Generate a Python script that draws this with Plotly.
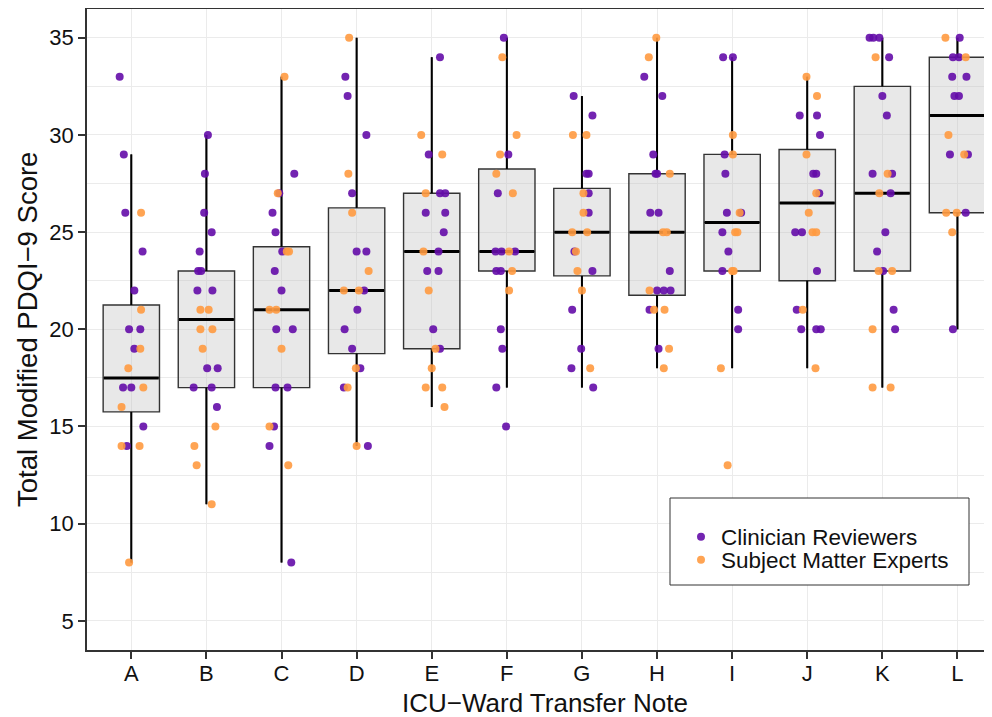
import plotly.graph_objects as go

notes = list("ABCDEFGHIJKL")

# box statistics (all raters combined)
q1 = [15.75, 17, 17, 18.75, 19, 23, 22.75, 21.75, 23, 22.5, 23, 26]
med = [17.5, 20.5, 21, 22, 24, 24, 25, 25, 25.5, 26.5, 27, 31]
q3 = [21.25, 23, 24.25, 26.25, 27, 28.25, 27.25, 28, 29, 29.25, 32.5, 34]
lo = [8, 11, 8, 14, 16, 17, 17, 18, 18, 18, 17, 20]
hi = [29, 30, 33, 35, 34, 35, 32, 35, 34, 33, 35, 35]

# Clinician Reviewers: number of scores per note, scores, horizontal jitter
clin_count = [12, 14, 14, 13, 12, 12, 12, 13, 11, 13, 14, 11]
clin_score = [
    33, 29, 26, 24, 22, 20, 20, 19, 17, 17, 15, 14,
    30, 28, 26, 25, 24, 23, 23, 22, 22, 18, 18, 17, 17, 16,
    28, 27, 26, 25, 24, 23, 22, 20, 20, 17, 17, 15, 14, 8,
    33, 32, 30, 27, 24, 24, 22, 21, 20, 19, 18, 17, 14,
    34, 29, 27, 27, 26, 26, 25, 24, 23, 23, 20, 19,
    35, 29, 27, 24, 24, 24, 23, 23, 20, 19, 17, 15,
    32, 31, 28, 28, 27, 26, 24, 23, 21, 19, 18, 17,
    33, 32, 29, 28, 28, 26, 26, 23, 22, 22, 22, 21, 19,
    34, 34, 29, 28, 26, 26, 25, 24, 23, 21, 20,
    31, 31, 30, 28, 28, 27, 25, 25, 23, 21, 20, 20, 20,
    35, 35, 35, 34, 32, 31, 28, 28, 27, 25, 24, 23, 21, 20,
    35, 34, 34, 33, 33, 32, 32, 29, 29, 26, 20,
]
clin_jit = [
    -0.155, -0.10, -0.08, 0.15, 0.04, -0.03, 0.12, 0.04, -0.11, 0.0, 0.16, -0.06,
    0.02, -0.02, -0.03, 0.07, -0.09, -0.11, -0.07, -0.12, 0.08, 0.01, 0.15, -0.17, 0.07, 0.14,
    0.17, -0.03, -0.12, -0.08, 0.01, -0.09, 0.0, -0.07, 0.15, -0.08, 0.08, -0.10, -0.16, 0.13,
    -0.15, -0.12, 0.13, -0.06, 0.0, 0.13, 0.10, 0.01, -0.16, -0.06, 0.05, -0.17, 0.15,
    0.11, -0.04, 0.11, 0.18, -0.08, 0.18, 0.16, 0.09, -0.06, 0.09, 0.02, 0.11,
    -0.04, 0.02, -0.12, -0.15, -0.07, 0.11, -0.14, -0.08, -0.08, -0.06, -0.14, -0.01,
    -0.11, 0.14, 0.06, 0.09, 0.09, 0.09, -0.10, 0.14, -0.13, -0.01, -0.14, 0.15,
    -0.17, 0.07, -0.05, -0.02, 0.0, -0.09, 0.02, 0.17, 0.0, 0.09, 0.18, -0.10, 0.02,
    -0.12, 0.01, -0.10, -0.09, -0.07, 0.12, -0.13, -0.05, -0.13, 0.08, 0.08,
    -0.10, 0.13, 0.17, 0.08, 0.12, 0.16, -0.16, -0.07, 0.13, -0.14, -0.08, 0.12, 0.18,
    -0.17, -0.12, -0.04, 0.09, 0.0, 0.06, -0.13, 0.13, 0.11, 0.04, -0.07, 0.01, 0.15, 0.17,
    0.03, -0.06, 0.02, -0.07, 0.12, -0.04, 0.02, -0.10, 0.14, 0.11, -0.06,
]

# Subject Matter Experts
sme_count = [9, 9, 9, 9, 10, 8, 10, 10, 9, 9, 8, 7]
sme_score = [
    26, 21, 19, 18, 17, 16, 14, 14, 8,
    21, 21, 20, 20, 19, 15, 14, 13, 11,
    33, 27, 24, 24, 21, 21, 19, 15, 13,
    35, 28, 26, 23, 22, 22, 18, 17, 14,
    30, 29, 27, 24, 22, 19, 18, 17, 17, 16,
    34, 30, 29, 28, 27, 24, 23, 22,
    30, 30, 27, 26, 25, 25, 24, 23, 22, 18,
    35, 34, 28, 25, 25, 22, 21, 21, 19, 18,
    30, 29, 26, 25, 25, 23, 23, 18, 13,
    33, 32, 29, 27, 26, 25, 25, 21, 18,
    34, 28, 27, 23, 23, 20, 17, 17,
    35, 34, 30, 29, 26, 26, 25,
]
sme_jit = [
    0.13, 0.13, 0.12, -0.04, 0.16, -0.13, -0.13, 0.11, -0.03,
    -0.08, 0.03, -0.08, 0.08, -0.05, 0.12, -0.16, -0.13, 0.07,
    0.04, -0.05, 0.07, 0.10, -0.16, -0.07, 0.0, -0.16, 0.09,
    -0.10, -0.11, -0.06, 0.16, -0.17, 0.03, -0.01, -0.12, 0.0,
    -0.14, 0.14, -0.08, -0.11, -0.04, 0.05, 0.0, -0.08, 0.14, 0.17,
    -0.06, 0.13, -0.09, -0.14, 0.08, 0.03, 0.07, 0.03,
    -0.12, 0.06, 0.02, 0.02, -0.13, 0.07, -0.08, -0.06, 0.0, 0.11,
    -0.01, -0.11, 0.17, 0.08, 0.13, -0.10, -0.04, 0.10, 0.16, 0.09,
    0.01, 0.01, 0.10, 0.04, 0.07, 0.0, 0.02, -0.15, -0.06,
    -0.01, 0.13, -0.01, 0.12, 0.02, 0.07, 0.12, -0.06, 0.11,
    -0.09, 0.07, -0.04, -0.05, 0.13, -0.13, -0.13, 0.11,
    -0.16, 0.11, -0.12, 0.09, -0.15, -0.01, -0.07,
]

y_ticks = [5, 10, 15, 20, 25, 30, 35]

PURPLE = "#640CA8"
ORANGE = "#FF9A40"
FONT = "Liberation Sans, Arial, Helvetica, sans-serif"
TXT = "#111111"
BOX_W = 0.75

pos = list(range(1, len(notes) + 1))

# figure sits at (8, 8) in the page because of the default body margin
W, H = 984, 709
ML, MT, MB = 79, 1, 67
PW, PH = W - ML, H - MT - MB   # 905 x 641


def px(xf):   # figure-pixel x -> paper
    return (xf - ML) / PW


def py(yf):   # figure-pixel y -> paper
    return (MT + PH - yf) / PH


def expand(counts, jit):
    xs = []
    k = 0
    for i, c in enumerate(counts):
        for _ in range(c):
            xs.append(pos[i] + jit[k])
            k += 1
    return xs


fig = go.Figure()

fig.add_trace(go.Box(
    x=pos, q1=q1, median=med, q3=q3, lowerfence=lo, upperfence=hi,
    width=BOX_W, whiskerwidth=0, boxpoints=False,
    fillcolor="rgba(190,190,190,0.36)",
    line=dict(color="#333333", width=1.4),
    showlegend=False, hoverinfo="skip",
))

# whiskers
wx, wy = [], []
for i, p in enumerate(pos):
    wx += [p, p, None, p, p, None]
    wy += [q3[i], hi[i], None, q1[i], lo[i], None]
fig.add_trace(go.Scatter(x=wx, y=wy, mode="lines",
                         line=dict(color="black", width=2),
                         showlegend=False, hoverinfo="skip"))

# medians
mx, my = [], []
for i, p in enumerate(pos):
    mx += [p - BOX_W / 2 + 0.01, p + BOX_W / 2 - 0.01, None]
    my += [med[i], med[i], None]
fig.add_trace(go.Scatter(x=mx, y=my, mode="lines",
                         line=dict(color="black", width=3),
                         showlegend=False, hoverinfo="skip"))

fig.add_trace(go.Scatter(
    x=expand(clin_count, clin_jit), y=clin_score, mode="markers",
    name="Clinician Reviewers", legend="legend",
    marker=dict(color=PURPLE, size=8, opacity=0.9, line=dict(width=0)),
))
fig.add_trace(go.Scatter(
    x=expand(sme_count, sme_jit), y=sme_score, mode="markers",
    name="Subject Matter Experts", legend="legend2",
    marker=dict(color=ORANGE, size=8, opacity=0.9, line=dict(width=0)),
))

# legend box (page px 670..969 x 498..585)
fig.add_shape(type="rect", xref="paper", yref="paper",
              x0=px(662), x1=px(961), y0=py(577), y1=py(490),
              fillcolor="white", line=dict(color="#333333", width=1),
              layer="above")

leg_common = dict(xanchor="left", yanchor="middle",
                  bgcolor="rgba(0,0,0,0)", borderwidth=0,
                  font=dict(size=22.5, family=FONT, color=TXT),
                  itemsizing="trace")

fig.update_layout(
    width=W, height=H,
    margin=dict(l=ML, r=0, t=MT, b=MB),
    paper_bgcolor="white", plot_bgcolor="white",
    font=dict(family=FONT, color=TXT),
    showlegend=True,
    legend=dict(x=px(673), y=py(529), **leg_common),
    legend2=dict(x=px(673), y=py(552), **leg_common),
    xaxis=dict(
        range=[0.41, 12.46], tickvals=pos, ticktext=notes,
        showgrid=True, gridcolor="#EBEBEB", gridwidth=1.3,
        zeroline=False, showline=True, linecolor="#333333", linewidth=1.7,
        mirror=True, ticks="outside", ticklen=7, tickwidth=1.7,
        ticklabelstandoff=-4,
        tickcolor="#333333", tickfont=dict(size=22, family=FONT, color=TXT),
    ),
    yaxis=dict(
        range=[3.5, 36.48], tickvals=y_ticks,
        showgrid=True, gridcolor="#EBEBEB", gridwidth=1.3,
        minor=dict(dtick=2.5, tick0=0, showgrid=True, gridcolor="#EBEBEB", gridwidth=1),
        zeroline=False, showline=True, linecolor="#333333", linewidth=1.7,
        mirror=False, ticks="outside", ticklen=7, tickwidth=1.7,
        tickcolor="#333333", tickfont=dict(size=22, family=FONT, color=TXT),
    ),
    annotations=[
        dict(text="ICU−Ward Transfer Note", xref="paper", yref="paper",
             x=px(536.5), y=py(695), xanchor="center", yanchor="middle",
             showarrow=False, font=dict(size=26, family=FONT, color=TXT)),
        dict(text="Total Modified PDQI−9 Score", xref="paper", yref="paper",
             x=px(19), y=py(322), xanchor="center", yanchor="middle",
             textangle=-90, showarrow=False,
             font=dict(size=27.5, family=FONT, color=TXT)),
    ],
)

fig.write_html("out.html")
